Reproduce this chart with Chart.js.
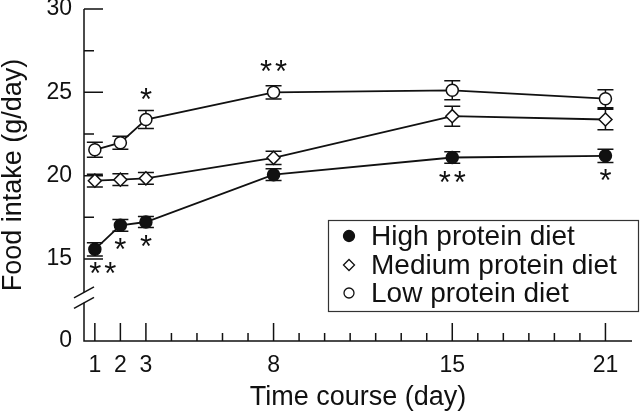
<!DOCTYPE html>
<html>
<head>
<meta charset="utf-8">
<script src="https://cdn.jsdelivr.net/npm/chart.js@4.4.0/dist/chart.umd.min.js"></script>
<style>
  body { margin: 0; background: #fff; }
  #wrap { width: 640px; height: 413px; }
</style>
</head>
<body>
<div id="wrap"><canvas id="myChart"></canvas></div>
<script>
// time course (day)
const days = [1, 2, 3, 8, 15, 21];
const minorDays = [4, 5, 6, 7, 9, 10, 11, 12, 13, 14, 16, 17, 18, 19, 20];

// y axis: broken below 15, bottom labelled 0
const yTicks = [15, 20, 25, 30];
const yMinorTicks = [17.5, 22.5, 27.5];
const yBottomLabel = '0';

const seriesNames = ['High protein diet', 'Medium protein diet', 'Low protein diet'];

// food intake (g/day), mean and error
const high = [15.58, 17.02, 17.22, 20.06, 21.09, 21.19];
const highErr = [0.4, 0.35, 0.33, 0.35, 0.35, 0.4];
const medium = [19.7, 19.76, 19.84, 21.07, 23.57, 23.37];
const mediumErr = [0.38, 0.35, 0.35, 0.4, 0.6, 0.62];
const low = [21.55, 21.98, 23.37, 25.0, 25.12, 24.62];
const lowErr = [0.45, 0.39, 0.54, 0.4, 0.57, 0.54];

// significance marks
const starDays = [3, 8, 1, 2, 3, 15, 21];
const starSeries = [2, 2, 0, 0, 0, 0, 0];
const starText = ['*', '**', '**', '*', '*', '**', '*'];

const yMin = 10.08;
const fontName = '"Liberation Sans", Arial, Helvetica, sans-serif';
const ink = '#111';

const errs = [highErr, mediumErr, lowErr];

const toPoints = (vals) => days.map((d, i) => ({ x: d, y: vals[i] }));

const decorations = {
  id: 'decorations',
  beforeDatasetsDraw(chart) {
    const ctx = chart.ctx;
    const xs = chart.scales.x, ys = chart.scales.y;
    const area = chart.chartArea;
    ctx.save();
    ctx.strokeStyle = ink;
    ctx.lineWidth = 1.5;

    // axes
    const brk = ys.getPixelForValue(yMin + (15 - yMin) * 0.53);
    ctx.beginPath();
    ctx.moveTo(area.left, area.top);
    ctx.lineTo(area.left, brk - 5.25);
    ctx.moveTo(area.left, brk + 5.25);
    ctx.lineTo(area.left, area.bottom);
    ctx.lineTo(area.right, area.bottom);
    ctx.stroke();
    // break marks
    [brk - 5.25, brk + 5.25].forEach(cy => {
      ctx.beginPath();
      ctx.moveTo(area.left - 10, cy + 5.5);
      ctx.lineTo(area.left + 10, cy - 5.5);
      ctx.stroke();
    });

    // inward ticks
    ctx.beginPath();
    days.forEach(d => {
      const px = xs.getPixelForValue(d);
      ctx.moveTo(px, area.bottom);
      ctx.lineTo(px, area.bottom - 18);
    });
    minorDays.forEach(d => {
      const px = xs.getPixelForValue(d);
      ctx.moveTo(px, area.bottom);
      ctx.lineTo(px, area.bottom - 8);
    });
    yTicks.forEach(v => {
      const py = ys.getPixelForValue(v);
      ctx.moveTo(area.left, py);
      ctx.lineTo(area.left + 19, py);
    });
    yMinorTicks.forEach(v => {
      const py = ys.getPixelForValue(v);
      ctx.moveTo(area.left, py);
      ctx.lineTo(area.left + 10, py);
    });
    ctx.stroke();

    // error bars
    ctx.beginPath();
    chart.data.datasets.forEach((ds, di) => {
      ds.data.forEach((p, i) => {
        const px = xs.getPixelForValue(p.x);
        const top = ys.getPixelForValue(p.y + errs[di][i]);
        const bot = ys.getPixelForValue(p.y - errs[di][i]);
        ctx.moveTo(px, top); ctx.lineTo(px, bot);
        ctx.moveTo(px - 8, top); ctx.lineTo(px + 8, top);
        ctx.moveTo(px - 8, bot); ctx.lineTo(px + 8, bot);
      });
    });
    ctx.stroke();
    ctx.restore();
  },
  afterDatasetsDraw(chart) {
    const ctx = chart.ctx;
    const xs = chart.scales.x, ys = chart.scales.y;
    ctx.save();
    ctx.fillStyle = ink;
    ctx.font = '31px ' + fontName;
    ctx.textAlign = 'center';
    ctx.textBaseline = 'alphabetic';

    // stars: above for low protein, below for high protein
    starDays.forEach((d, k) => {
      const s = starSeries[k];
      const vals = chart.data.datasets[s].data;
      const idx = days.indexOf(d);
      let cx = xs.getPixelForValue(d);
      const cy = ys.getPixelForValue(vals[idx].y) + (s === 2 ? -26 : 19);
      const n = starText[k].length;
      if (d === days[0] && n > 1) cx += 8;
      for (let i = 0; i < n; i++) {
        const m = ctx.measureText('*');
        const sx = cx + (i - (n - 1) / 2) * 15;
        ctx.fillText('*', sx, cy + (m.actualBoundingBoxAscent - m.actualBoundingBoxDescent) / 2);
      }
    });

    // legend box
    const bx = 328.5, by = 220.5, bw = 310, bh = 91;
    ctx.strokeStyle = '#333';
    ctx.lineWidth = 1.2;
    ctx.strokeRect(bx, by, bw, bh);
    ctx.font = '28px ' + fontName;
    ctx.textAlign = 'left';
    ctx.textBaseline = 'middle';
    const rows = [236, 265, 293];
    const styles = [
      { pointStyle: 'circle', radius: 5.5, fill: ink },
      { pointStyle: 'rectRot', radius: 5.5, fill: '#fff' },
      { pointStyle: 'circle', radius: 5, fill: '#fff' }
    ];
    chart.data.datasets.forEach((ds, i) => {
      ctx.fillStyle = styles[i].fill;
      ctx.strokeStyle = ink;
      ctx.lineWidth = 1.3;
      Chart.helpers.drawPoint(ctx, {
        pointStyle: styles[i].pointStyle,
        radius: styles[i].radius,
        rotation: 0,
        borderWidth: 1.3
      }, 349, rows[i]);
      ctx.fillStyle = ink;
      ctx.fillText(ds.label, 371, rows[i] + 1);
    });
    ctx.restore();
  }
};

const mk = (label, vals, style, radius, fill) => ({
  label: label,
  data: toPoints(vals),
  showLine: true,
  borderColor: ink,
  borderWidth: 1.8,
  pointStyle: style,
  pointRadius: radius,
  pointBackgroundColor: fill,
  pointBorderColor: ink,
  pointBorderWidth: 1.5,
  tension: 0
});

new Chart(document.getElementById('myChart'), {
  type: 'line',
  data: {
    datasets: [
      mk(seriesNames[0], high, 'circle', 6, ink),
      mk(seriesNames[1], medium, 'rectRot', 6.5, '#fff'),
      mk(seriesNames[2], low, 'circle', 6, '#fff')
    ]
  },
  options: {
    responsive: true,
    maintainAspectRatio: false,
    animation: false,
    layout: { padding: { top: 9, right: 0, left: 0, bottom: 0 } },
    plugins: { legend: { display: false }, tooltip: { enabled: false } },
    scales: {
      x: {
        type: 'linear',
        min: 0.575,
        max: 22.04,
        grid: { display: false },
        border: { display: false },
        afterBuildTicks: (scale) => { scale.ticks = days.map(v => ({ value: v })); },
        afterFit: (scale) => { scale.height = 72; scale.paddingLeft = 0; scale.paddingRight = 0; },
        ticks: {
          color: ink,
          padding: 3,
          maxRotation: 0,
          autoSkip: false,
          font: { family: fontName, size: 23 },
          callback: (v) => v
        },
        title: {
          display: true,
          text: 'Time course (day)',
          color: ink,
          padding: { top: 0, bottom: 2 },
          font: { family: fontName, size: 27, lineHeight: 1 }
        }
      },
      y: {
        min: yMin,
        max: 30,
        grid: { display: false },
        border: { display: false },
        afterBuildTicks: (scale) => { scale.ticks = [yMin].concat(yTicks).map(v => ({ value: v })); },
        afterFit: (scale) => { scale.width = 84; scale.paddingTop = 0; scale.paddingBottom = 0; },
        ticks: {
          color: ink,
          padding: 4,
          autoSkip: false,
          font: { family: fontName, size: 23 },
          callback: (v) => (v < 15 ? yBottomLabel : v)
        },
        title: {
          display: true,
          text: 'Food intake (g/day)',
          color: ink,
          padding: { top: 0, bottom: 0 },
          font: { family: fontName, size: 27, lineHeight: 1 }
        }
      }
    }
  },
  plugins: [decorations]
});
</script>
</body>
</html>
